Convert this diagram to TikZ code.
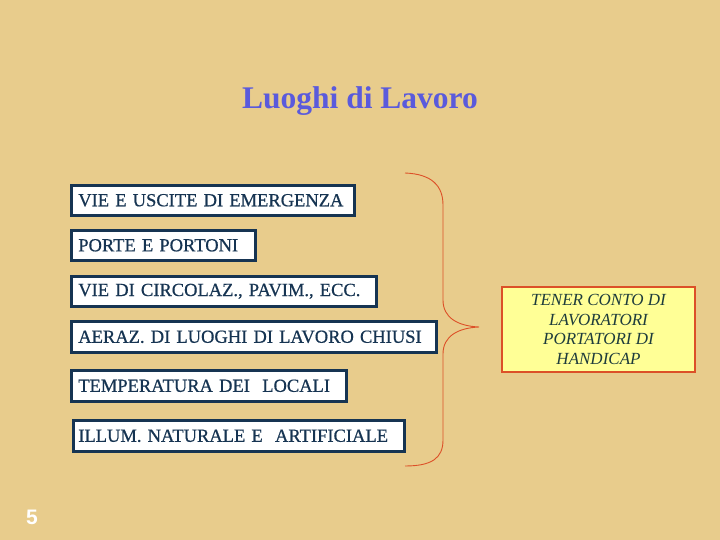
\documentclass[tikz,border=0pt]{standalone}
\usepackage{fontspec}
\setmainfont{Liberation Serif}
\newfontfamily\itemfont[FakeBold=0.6]{Liberation Serif}
\newfontfamily\numfont{Liberation Sans}
\definecolor{parch}{RGB}{232,204,140}
\definecolor{navy}{RGB}{22,52,82}
\definecolor{titleblue}{RGB}{90,90,220}
\definecolor{bracered}{RGB}{220,80,40}
\definecolor{noteyellow}{RGB}{255,255,150}
\definecolor{notetext}{RGB}{30,60,60}
\begin{document}
\begin{tikzpicture}[x=1pt,y=-1pt,
  itembox/.style={draw=navy,line width=2.6pt,fill=white,text=navy,anchor=north west,
     inner sep=0pt,font=\itemfont\fontsize{18.5}{20}\selectfont},
  notebox/.style={draw=bracered,line width=2pt,fill=noteyellow,text=notetext,
     inner sep=0pt,font=\fontsize{17}{19.5}\selectfont\itshape,align=center}]
\fill[parch] (0,0) rectangle (720,540);
\useasboundingbox (0,0) rectangle (720,540);
\node[text=titleblue,font=\fontsize{31.5}{34}\selectfont\bfseries] (title) at (360,101) {Luoghi di Lavoro};
\node[itembox,minimum width=283pt,minimum height=30pt,text width=283pt] (b1) at (70,184) {\hspace*{7pt}VIE E USCITE DI EMERGENZA};
\node[itembox,minimum width=184pt,minimum height=30pt,text width=184pt] (b2) at (70,229) {\hspace*{7pt}PORTE E PORTONI};
\node[itembox,minimum width=305pt,minimum height=30pt,text width=305pt] (b3) at (70,275) {\hspace*{7pt}VIE DI CIRCOLAZ., PAVIM., ECC.};
\node[itembox,minimum width=365pt,minimum height=31pt,text width=365pt] (b4) at (70,320) {\hspace*{7pt}AERAZ. DI LUOGHI DI LAVORO CHIUSI};
\node[itembox,minimum width=275pt,minimum height=31pt,text width=275pt] (b5) at (70,369) {\hspace*{7pt}TEMPERATURA DEI\ \ LOCALI};
\node[itembox,minimum width=331pt,minimum height=31pt,text width=331pt] (b6) at (72,419) {\hspace*{5pt}ILLUM. NATURALE E\ \ ARTIFICIALE};
\coordinate (btop) at (405,173);
\coordinate (btip) at (479,327);
\coordinate (bbot) at (405,466);
\draw[bracered,line width=0.9pt] (btop) .. controls (432,174) and (443,186) .. (443,205)
  -- (443,300) .. controls (443,318) and (458,326) .. (btip)
  .. controls (458,328) and (443,336) .. (443,354)
  -- (443,440) .. controls (443,458) and (432,466) .. (bbot);
\node[notebox,minimum width=193pt,minimum height=85pt] (note) at (598.5,329.5) {TENER CONTO DI\\LAVORATORI\\PORTATORI DI\\HANDICAP};
\node[text=white,font=\numfont\fontsize{21}{24}\selectfont\bfseries] (num) at (32,517) {5};
\end{tikzpicture}
\end{document}
